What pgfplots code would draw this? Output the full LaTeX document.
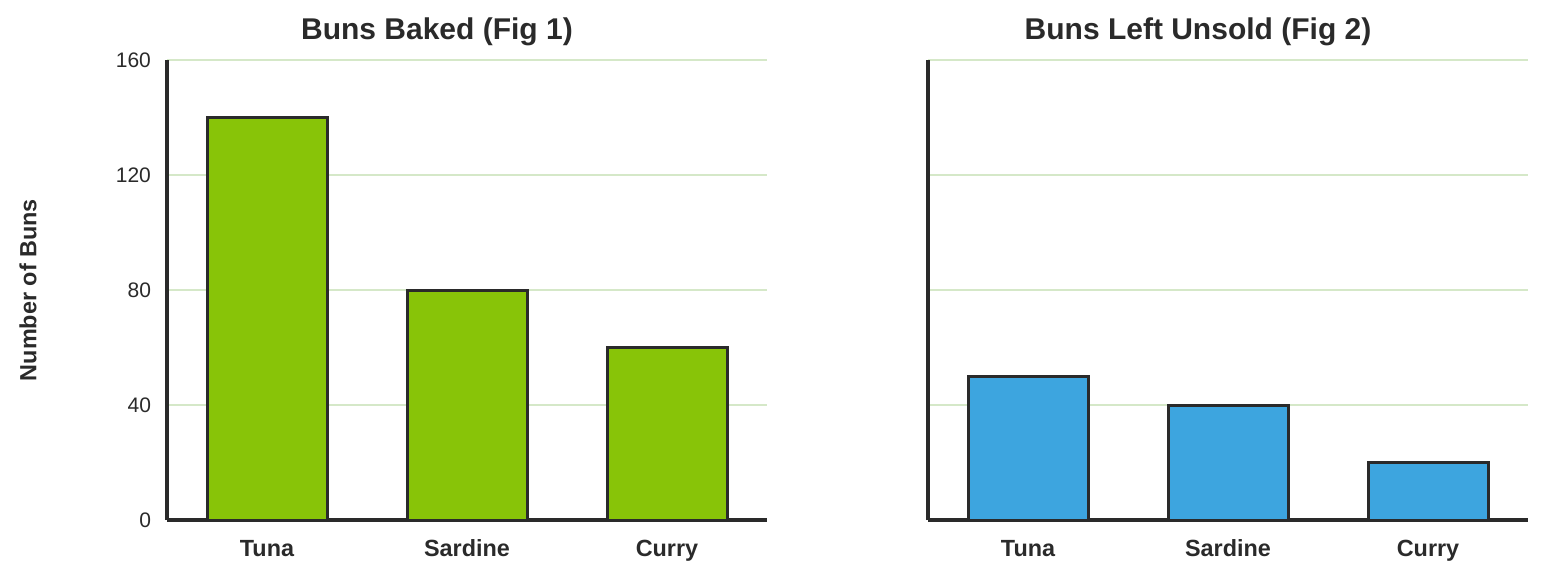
\documentclass[border=0pt]{standalone}
\usepackage{pgfplots}
\pgfplotsset{compat=1.18}
\usepackage{fontspec}
\setmainfont{Liberation Sans}
\definecolor{bgreen}{HTML}{88C408}
\definecolor{bblue}{HTML}{3DA5DF}
\definecolor{gridc}{HTML}{D5E8C8}
\definecolor{dark}{HTML}{2A2A2A}
\pgfplotsset{
  bunstyle/.style={
    scale only axis, width=300pt, height=230pt,
    ybar, bar width=60pt, bar shift=0pt,
    xmin=-0.5, xmax=2.5, ymin=0, ymax=160,
    xtick=data, xticklabels={Tuna,Sardine,Curry},
    ytick={0,40,80,120,160},
    axis x line=bottom, axis y line=left,
    axis line style={-, draw=dark, line width=2pt},
    major tick length=0pt,
    ymajorgrids, grid style={gridc, line width=0.75pt},
    xticklabel style={font=\fontsize{11.7}{14}\selectfont\bfseries, text=dark, anchor=base, yshift=-18pt},
    yticklabel style={font=\fontsize{10.5}{12}\selectfont, text=dark, xshift=-4.5pt},
    /pgf/number format/assume math mode=true,
    clip=false,
  }
}
\begin{document}
\begin{tikzpicture}
\useasboundingbox (0,0) rectangle (772.5pt,289.5pt);
\begin{axis}[bunstyle, at={(83.5pt,29.5pt)}, anchor=south west]
\addplot[fill=bgreen, draw=dark, line width=1.5pt] coordinates {(0,140) (1,80) (2,60)};
\node[font=\fontsize{15}{18}\selectfont\bfseries, text=dark, anchor=base] at (axis description cs:0.45,1) [yshift=10.25pt] {Buns Baked (Fig 1)};
\end{axis}
\begin{axis}[bunstyle, at={(464pt,29.5pt)}, anchor=south west,
  yticklabels={},
]
\addplot[fill=bblue, draw=dark, line width=1.5pt] coordinates {(0,50) (1,40) (2,20)};
\node[font=\fontsize{15}{18}\selectfont\bfseries, text=dark, anchor=base] at (axis description cs:0.45,1) [yshift=10.25pt] {Buns Left Unsold (Fig 2)};
\end{axis}
\node[font=\fontsize{11.7}{14}\selectfont\bfseries, text=dark, rotate=90, anchor=center] at (14pt,144.5pt) {Number of Buns};
\end{tikzpicture}
\end{document}
